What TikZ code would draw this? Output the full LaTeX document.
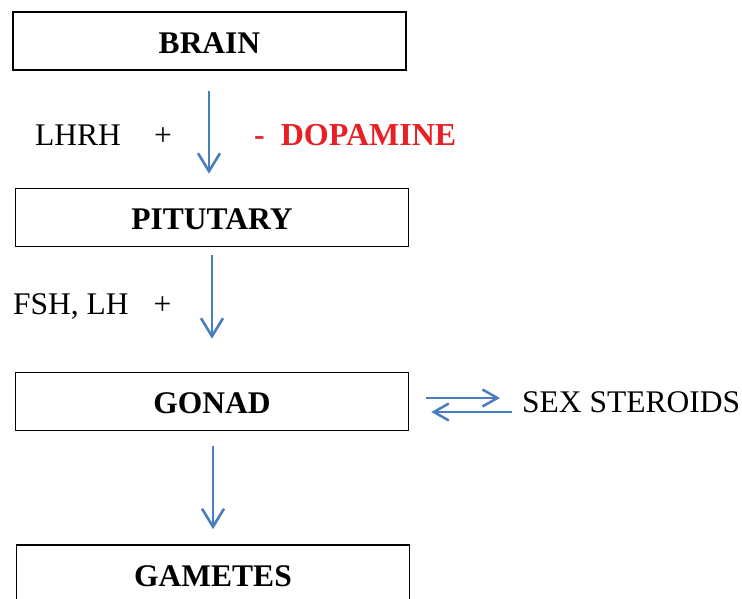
\documentclass[tikz,border=0pt]{standalone}
\usepackage{fontspec}
\setmainfont{Liberation Serif}
\usetikzlibrary{arrows.meta, positioning}
\definecolor{axisblue}{RGB}{74,126,193}
\definecolor{inhibred}{RGB}{232,32,38}

\begin{document}
\begin{tikzpicture}[
    x=1pt, y=-1pt,
    organ/.style={rectangle, draw, line width=1.6pt, minimum width=393pt, minimum height=58pt, inner sep=0pt, text height=24.5pt, text depth=0pt, font=\fontsize{31.5}{36}\selectfont\bfseries},
    arrow/.style={-{Straight Barb[length=18pt,width=22pt,line width=2.6pt]}, axisblue, line width=2.6pt},
    swap arrow/.style={-{Straight Barb[length=15pt,width=17pt,line width=2.5pt]}, axisblue, line width=2.5pt},
    label/.style={font=\fontsize{31.5}{36}\selectfont, inner sep=0pt, text height=21pt, text depth=0pt, anchor=west}
]
\useasboundingbox (0,0) rectangle (742,599);

% Axis organs
\node[organ] (brain) at (209.5,41) {BRAIN};
\node[organ] (pituitary) at (212,217.5) {PITUTARY};
\node[organ] (gonad) at (212,401.5) {GONAD};
\node[organ] (gametes) at (213,574) {GAMETES};

% Hormone labels
\node[label] (lhrh) at (35,135.5) {LHRH};
\node[label, anchor=center] (plus1) at (163,135.5) {+};
\node[label, text=inhibred, font=\fontsize{32}{36}\selectfont\bfseries] (dopamine) at (254,135.5) {-\ \ DOPAMINE};
\node[label] (fsh) at (13,304) {FSH, LH};
\node[label, anchor=center] (plus2) at (162.5,304) {+};
\node[label] (steroids) at (522,401.5) {SEX STEROIDS};

% Arrows down the axis
\draw[arrow, shorten <=20pt, shorten >=14pt] ([xshift=-0.5pt]brain.south) -- ([xshift=-3pt]pituitary.north);
\draw[arrow, shorten <=8pt, shorten >=33pt] (pituitary.south) -- (gonad.north);
\draw[arrow, shorten <=15pt, shorten >=15pt] ([xshift=1pt]gonad.south) -- (gametes.north);

% Gonad <-> steroids exchange
\draw[swap arrow, shorten <=17pt, shorten >=22pt] ([yshift=3.5pt]gonad.east) -- ([yshift=3.5pt]steroids.west);
\draw[swap arrow, shorten <=10pt, shorten >=22pt] ([yshift=-10.5pt]steroids.west) -- ([yshift=-10.5pt]gonad.east);

\end{tikzpicture}
\end{document}
